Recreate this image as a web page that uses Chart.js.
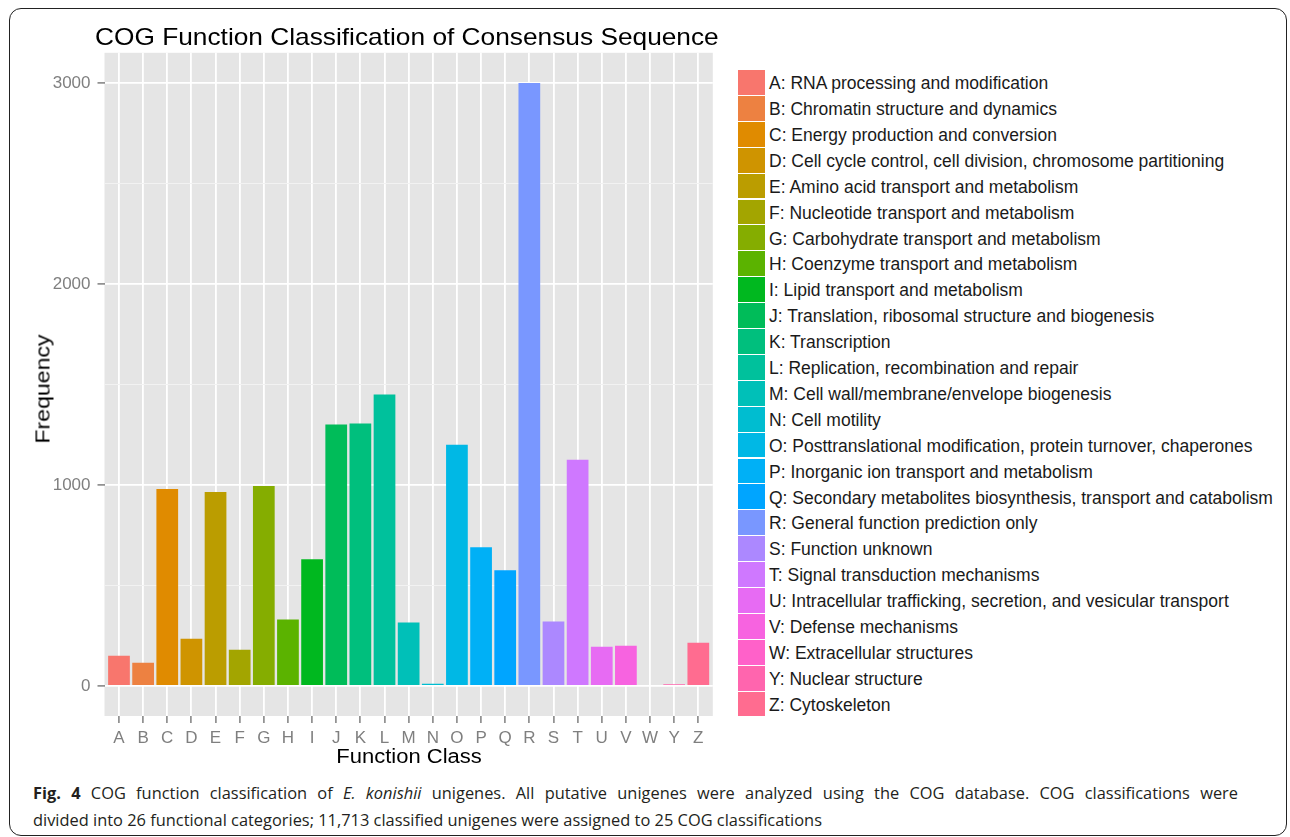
<!DOCTYPE html>
<html>
<head>
<meta charset="utf-8">
<script src="https://cdn.jsdelivr.net/npm/chart.js@4.4.1/dist/chart.umd.min.js"></script>
<style>
  html, body { margin: 0; padding: 0; background: #fff; }
  body { width: 1290px; height: 837px; position: relative; overflow: hidden; font-family: 'Liberation Sans', Arial, sans-serif; }
  #frame { position: absolute; left: 9px; top: 8px; width: 1276px; height: 826px; border: 1.5px solid #222; border-radius: 12px; }
  #wrap { position: absolute; left: 0; top: 0; width: 730px; height: 760px; }
  .t { position: absolute; white-space: nowrap; color: #000; }
  #title { left: 95px; top: 24.7px; font-size: 24px; line-height: 24px; transform: scaleX(1.095); transform-origin: 0 0; }
  #xtitle { left: 408.6px; top: 746px; font-size: 20px; line-height: 20px; transform: translateX(-50%) scaleX(1.1); }
  #ytitle { left: 42px; top: 388.5px; font-size: 21px; line-height: 21px; transform: translate(-50%, -50%) rotate(-90deg) scaleX(1.1); }
  #legend { position: absolute; left: 738px; top: 70px; }
  .li { position: absolute; left: 0; height: 25.9px; width: 560px; }
  .sw { position: absolute; left: 0; top: 0; width: 27px; height: 24.9px; }
  .lt { position: absolute; left: 31px; top: 5.2px; font-size: 17.5px; line-height: 17.5px; color: #1a1a1a; white-space: nowrap; }
  .cap { position: absolute; left: 33px; font-family: 'Open Sans', sans-serif; font-size: 16.4px; line-height: 27px; color: #231f20; white-space: nowrap; }
  #cap1 { top: 778.5px; width: 1205px; text-align: justify; text-align-last: justify; white-space: normal; }
  #cap2 { top: 805.5px; }
</style>
</head>
<body>
<div id="frame"></div>
<div id="wrap"><canvas id="c" width="730" height="760"></canvas></div>
<div class="t" id="title">COG Function Classification of Consensus Sequence</div>
<div class="t" id="xtitle">Function Class</div>
<div class="t" id="ytitle">Frequency</div>
<div id="legend"></div>
<div class="cap" id="cap1"><b>Fig. 4</b> COG function classification of <i>E. konishii</i> unigenes. All putative unigenes were analyzed using the COG database. COG classifications were</div>
<div class="cap" id="cap2">divided into 26 functional categories; 11,713 classified unigenes were assigned to 25 COG classifications</div>
<script>
const categories = ['A','B','C','D','E','F','G','H','I','J','K','L','M','N','O','P','Q','R','S','T','U','V','W','Y','Z'];
const frequencies = [150,115,980,235,965,180,995,330,630,1300,1305,1450,315,10,1200,690,575,3000,320,1125,195,200,0,8,215];
const descriptions = [
  'RNA processing and modification',
  'Chromatin structure and dynamics',
  'Energy production and conversion',
  'Cell cycle control, cell division, chromosome partitioning',
  'Amino acid transport and metabolism',
  'Nucleotide transport and metabolism',
  'Carbohydrate transport and metabolism',
  'Coenzyme transport and metabolism',
  'Lipid transport and metabolism',
  'Translation, ribosomal structure and biogenesis',
  'Transcription',
  'Replication, recombination and repair',
  'Cell wall/membrane/envelope biogenesis',
  'Cell motility',
  'Posttranslational modification, protein turnover, chaperones',
  'Inorganic ion transport and metabolism',
  'Secondary metabolites biosynthesis, transport and catabolism',
  'General function prediction only',
  'Function unknown',
  'Signal transduction mechanisms',
  'Intracellular trafficking, secretion, and vesicular transport',
  'Defense mechanisms',
  'Extracellular structures',
  'Nuclear structure',
  'Cytoskeleton'
];
const majorYTicks = [0, 1000, 2000, 3000];
const minorYTicks = [500, 1500, 2500];

// ggplot2-style hue palette (HCL, c=100, l=65)
function hcl(h, c, l) {
  const WU = 0.1978398, WV = 0.4683363;
  const hr = h * Math.PI / 180;
  const U = c * Math.cos(hr), V = c * Math.sin(hr);
  const Y = 100 * (l > 7.999592 ? Math.pow((l + 16) / 116, 3) : l / 903.3);
  const u = U / (13 * l) + WU, v = V / (13 * l) + WV;
  const X = 9 * Y * u / (4 * v);
  const Z = -X / 3 - 5 * Y + 3 * Y / v;
  const g = t => { t = t > 0.00304 ? 1.055 * Math.pow(t, 1 / 2.4) - 0.055 : 12.92 * t; return Math.round(255 * Math.max(0, Math.min(1, t))); };
  const x = X / 100, y = Y / 100, z = Z / 100;
  return 'rgb(' + g(3.240479 * x - 1.537150 * y - 0.498535 * z) + ',' + g(-0.969256 * x + 1.875992 * y + 0.041556 * z) + ',' + g(0.055648 * x - 0.204043 * y + 1.057311 * z) + ')';
}
const n = categories.length;
const colors = categories.map((_, i) => hcl(15 + 360 * i / n, 100, 65));

// legend
const leg = document.getElementById('legend');
categories.forEach((c, i) => {
  const d = document.createElement('div');
  d.className = 'li';
  d.style.top = (i * 25.9) + 'px';
  d.innerHTML = '<div class="sw" style="background:' + colors[i] + '"></div><div class="lt">' + c + ': ' + descriptions[i] + '</div>';
  leg.appendChild(d);
});

const panelBg = {
  id: 'panelBg',
  beforeDraw(chart) {
    const a = chart.chartArea, ctx = chart.ctx;
    ctx.save();
    ctx.fillStyle = '#E5E5E5';
    ctx.fillRect(a.left, a.top, a.right - a.left, a.bottom - a.top);
    ctx.restore();
  }
};

new Chart(document.getElementById('c'), {
  type: 'bar',
  data: {
    datasets: [{
      data: frequencies.map((v, i) => ({ x: i, y: v })),
      backgroundColor: colors,
      borderWidth: 0,
      barPercentage: 0.9,
      categoryPercentage: 1.0
    }]
  },
  plugins: [panelBg],
  options: {
    responsive: false,
    animation: false,
    events: [],
    layout: { padding: { top: 52.8, right: 17.2, left: 0, bottom: 0 } },
    plugins: { legend: { display: false }, tooltip: { enabled: false }, title: { display: false } },
    scales: {
      x: {
        type: 'linear',
        offset: false,
        min: -0.6,
        max: n - 1 + 0.6,
        afterBuildTicks: s => { s.ticks = categories.map((_, i) => ({ value: i })); },
        afterFit: s => { s.height = 44; },
        ticks: {
          autoSkip: false, maxRotation: 0, minRotation: 0, padding: 5,
          color: '#7f7f7f', font: { family: 'Liberation Sans', size: 17 },
          callback: v => categories[v]
        },
        grid: { offset: false, color: '#ffffff', lineWidth: 1.8, tickLength: 7, tickColor: '#7f7f7f', tickWidth: 1.5 },
        border: { display: false }
      },
      y: {
        type: 'linear',
        min: -150,
        max: 3150,
        afterBuildTicks: s => { s.ticks = majorYTicks.concat(minorYTicks).sort((a, b) => a - b).map(v => ({ value: v })); },
        afterFit: s => { s.width = 104.5; },
        ticks: {
          padding: 7, color: '#7f7f7f', font: { family: 'Liberation Sans', size: 17 },
          callback: v => majorYTicks.includes(v) ? String(v) : ''
        },
        grid: {
          color: ctx => majorYTicks.includes(ctx.tick.value) ? '#ffffff' : '#F2F2F2',
          lineWidth: ctx => majorYTicks.includes(ctx.tick.value) ? 1.8 : 1,
          tickLength: 7,
          tickColor: ctx => majorYTicks.includes(ctx.tick.value) ? '#7f7f7f' : 'rgba(0,0,0,0)',
          tickWidth: 1.5
        },
        border: { display: false }
      }
    }
  }
});
</script>
</body>
</html>
